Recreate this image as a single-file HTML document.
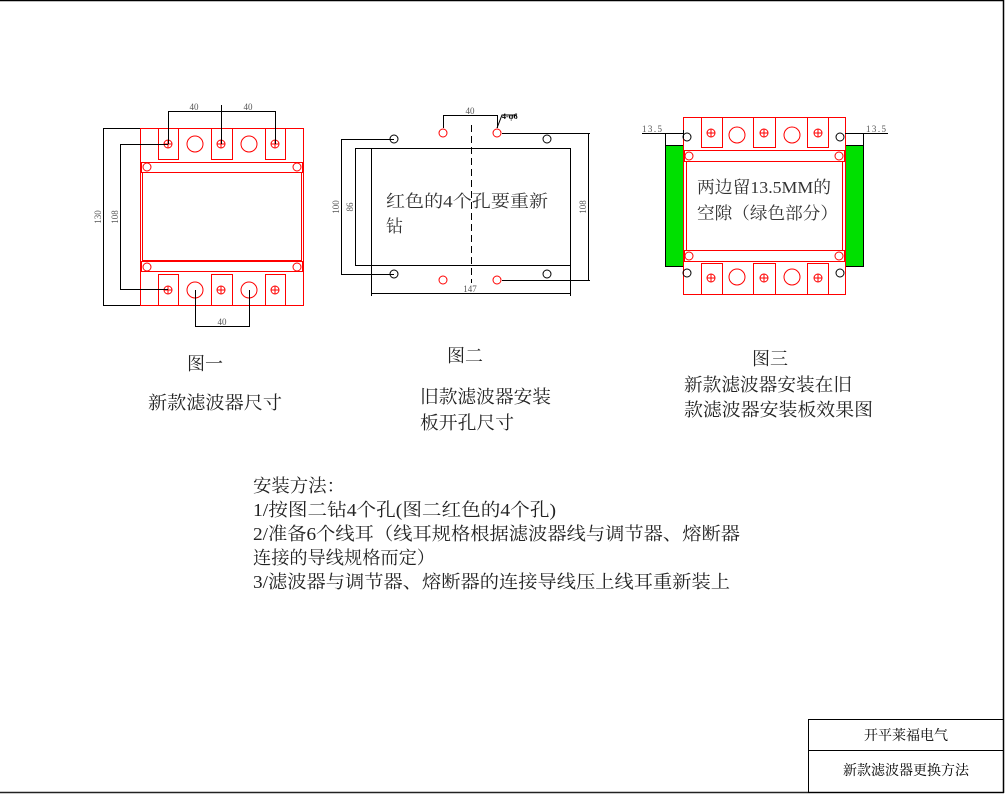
<!DOCTYPE html>
<html><head><meta charset="utf-8"><style>
html,body{margin:0;padding:0;background:#fff;}
svg{display:block;}
text{font-family:"Liberation Serif","Noto Serif CJK SC",serif;}
</style></head><body>
<svg width="1008" height="797" viewBox="0 0 1008 797" xmlns="http://www.w3.org/2000/svg">
<line x1="0" y1="0.5" x2="1004" y2="0.5" stroke="#000" stroke-width="1.5"/>
<line x1="1003.5" y1="0" x2="1003.5" y2="793" stroke="#000" stroke-width="1.5"/>
<line x1="0" y1="792.5" x2="1004" y2="792.5" stroke="#222" stroke-width="1.5"/>
<rect x="808.5" y="719.5" width="195" height="73" fill="none" stroke="#000"/>
<line x1="808" y1="750.5" x2="1004" y2="750.5" stroke="#000"/>
<text x="906" y="740" font-size="14" text-anchor="middle">开平莱福电气</text>
<text x="906" y="775" font-size="14" text-anchor="middle">新款滤波器更换方法</text>

<g fill="none" stroke="#f00" stroke-width="1">
<rect x="140.5" y="128.5" width="163" height="177"/>
<rect x="158.5" y="128.5" width="20" height="31"/>
<rect x="211.5" y="128.5" width="21" height="31"/>
<rect x="265.5" y="128.5" width="20" height="31"/>
<rect x="141.5" y="162.5" width="161" height="10"/>
<rect x="142.5" y="172.5" width="159" height="88"/>
<rect x="141.5" y="261.5" width="161" height="10"/>
<rect x="158.5" y="274.5" width="20" height="31"/>
<rect x="211.5" y="274.5" width="21" height="31"/>
<rect x="265.5" y="274.5" width="20" height="31"/>
<circle cx="195" cy="144" r="8"/><circle cx="249" cy="144" r="8"/>
<circle cx="195" cy="290" r="8"/><circle cx="249" cy="290" r="8"/>
<circle cx="147" cy="167" r="4"/><circle cx="297" cy="167" r="4"/>
<circle cx="147" cy="267" r="4"/><circle cx="297" cy="267" r="4"/>
<circle cx="168" cy="144" r="4"/><path d="M164 144h8M168 140v8"/>
<circle cx="221" cy="144" r="4"/><path d="M217 144h8M221 140v8"/>
<circle cx="275" cy="144" r="4"/><path d="M271 144h8M275 140v8"/>
<circle cx="168" cy="290" r="4"/><path d="M164 290h8M168 286v8"/>
<circle cx="221" cy="290" r="4"/><path d="M217 290h8M221 286v8"/>
<circle cx="275" cy="290" r="4"/><path d="M271 290h8M275 286v8"/>
</g>
<g stroke="#000" stroke-width="1" fill="none">
<path d="M103 128.5h37M103 305.5h37M103.5 128v178"/>
<path d="M120 144.5h48M120 289.5h48M120.5 144v146"/>
<path d="M168 111.5h107M168.5 111v33M221.5 105v39M275.5 111v33"/>
<path d="M195.5 290v37M249.5 290v37M195 326.5h54"/>
</g>
<g font-size="9" fill="#555">
<text x="194" y="110" text-anchor="middle">40</text>
<text x="248" y="110" text-anchor="middle">40</text>
<text x="222" y="325" text-anchor="middle">40</text>
<text transform="translate(101,217) rotate(-90)" text-anchor="middle">130</text>
<text transform="translate(118,217) rotate(-90)" text-anchor="middle">108</text>
</g>

<g stroke="#000" fill="none" stroke-width="1">
<rect x="371.5" y="148.5" width="199" height="117"/>
<path d="M355 148.5h16M355 265.5h16M355.5 148v118"/>
<path d="M341 139.5h53M341 274.5h53M341.5 139v136"/>
<path d="M502 133.5h88M502 280.5h88M588.5 133v148"/>
<path d="M371.5 265v31M570.5 265v31M371 293.5h199"/>
<path d="M443.5 115v13M497.5 115v13M443 115.5h54M497 128l5-13h15"/>
<line x1="471.5" y1="125" x2="471.5" y2="283" stroke-dasharray="7,4"/>
<circle cx="394" cy="139" r="4"/><circle cx="547" cy="139" r="4"/>
<circle cx="394" cy="274" r="4"/><circle cx="547" cy="274" r="4"/>
</g>
<g stroke="#f00" fill="none">
<circle cx="443" cy="133" r="4"/><circle cx="497" cy="133" r="4"/>
<circle cx="443" cy="280" r="4"/><circle cx="497" cy="280" r="4"/>
</g>
<g font-size="9" fill="#555">
<text x="470" y="114" text-anchor="middle">40</text>
<text x="502" y="119" fill="#000" font-weight="bold" font-size="8">4-φ6</text>
<text x="470" y="292" text-anchor="middle">147</text>
<text transform="translate(339,207) rotate(-90)" text-anchor="middle">100</text>
<text transform="translate(353,207) rotate(-90)" text-anchor="middle">86</text>
<text transform="translate(586,207) rotate(-90)" text-anchor="middle">108</text>
</g>
<text x="386" y="207" font-size="17" fill="#333" textLength="162" lengthAdjust="spacingAndGlyphs">红色的4个孔要重新</text>
<text x="386" y="232" font-size="17" fill="#333">钻</text>

<rect x="665.5" y="145.5" width="18" height="121" fill="#00e000" stroke="#000"/>
<rect x="845.5" y="145.5" width="18" height="121" fill="#00e000" stroke="#000"/>
<g fill="none" stroke="#f00" stroke-width="1">
<rect x="683.5" y="117.5" width="162" height="177" fill="#fff"/>
<rect x="701.5" y="117.5" width="21" height="30"/>
<rect x="753.5" y="117.5" width="22" height="30"/>
<rect x="807.5" y="117.5" width="21" height="30"/>
<rect x="684.5" y="150.5" width="160" height="11"/>
<rect x="686.5" y="161.5" width="156" height="89"/>
<rect x="684.5" y="250.5" width="160" height="11"/>
<rect x="701.5" y="263.5" width="21" height="31"/>
<rect x="753.5" y="263.5" width="22" height="31"/>
<rect x="807.5" y="263.5" width="21" height="31"/>
<circle cx="737" cy="135" r="8"/><circle cx="792" cy="135" r="8"/>
<circle cx="737" cy="277" r="8"/><circle cx="792" cy="277" r="8"/>
<circle cx="689" cy="156" r="4"/><circle cx="839" cy="156" r="4"/>
<circle cx="689" cy="256" r="4"/><circle cx="839" cy="256" r="4"/>
<circle cx="711" cy="133" r="4"/><path d="M707 133h8M711 129v8"/>
<circle cx="764" cy="133" r="4"/><path d="M760 133h8M764 129v8"/>
<circle cx="818" cy="133" r="4"/><path d="M814 133h8M818 129v8"/>
<circle cx="711" cy="278" r="4"/><path d="M707 278h8M711 274v8"/>
<circle cx="764" cy="278" r="4"/><path d="M760 278h8M764 274v8"/>
<circle cx="818" cy="278" r="4"/><path d="M814 278h8M818 274v8"/>
</g>
<g stroke="#000" fill="none">
<circle cx="687" cy="137" r="4"/><circle cx="840" cy="137" r="4"/>
<circle cx="687" cy="273" r="4"/><circle cx="840" cy="273" r="4"/>
<path d="M642 133.5h41M665.5 133v13M683.5 130v8"/>
<path d="M845 133.5h43M863.5 133v13"/>
</g>
<g font-size="9" fill="#555">
<text x="642" y="132" textLength="20">13.5</text>
<text x="866" y="132" textLength="20">13.5</text>
</g>
<text x="697" y="193" font-size="17" fill="#333" textLength="134" lengthAdjust="spacingAndGlyphs">两边留13.5MM的</text>
<text x="697" y="219" font-size="17" fill="#333" textLength="141" lengthAdjust="spacingAndGlyphs">空隙（绿色部分）</text>

<g font-size="18" fill="#222">
<text x="187" y="370">图一</text>
<text x="148" y="409" textLength="134" lengthAdjust="spacingAndGlyphs">新款滤波器尺寸</text>
<text x="447" y="362">图二</text>
<text x="420" y="403" textLength="131" lengthAdjust="spacingAndGlyphs">旧款滤波器安装</text>
<text x="420" y="429" textLength="94" lengthAdjust="spacingAndGlyphs">板开孔尺寸</text>
<text x="752" y="365">图三</text>
<text x="684" y="391" textLength="168" lengthAdjust="spacingAndGlyphs">新款滤波器安装在旧</text>
<text x="684" y="416" textLength="189" lengthAdjust="spacingAndGlyphs">款滤波器安装板效果图</text>
</g>
<g font-size="18" fill="#222">
<text x="253" y="492" textLength="92" lengthAdjust="spacingAndGlyphs">安装方法：</text>
<text x="253" y="516" textLength="303" lengthAdjust="spacingAndGlyphs">1/按图二钻4个孔(图二红色的4个孔)</text>
<text x="253" y="540" textLength="487" lengthAdjust="spacingAndGlyphs">2/准备6个线耳（线耳规格根据滤波器线与调节器、熔断器</text>
<text x="253" y="564" textLength="182" lengthAdjust="spacingAndGlyphs">连接的导线规格而定）</text>
<text x="253" y="588" textLength="477" lengthAdjust="spacingAndGlyphs">3/滤波器与调节器、熔断器的连接导线压上线耳重新装上</text>
</g>
</svg>
</body></html>
